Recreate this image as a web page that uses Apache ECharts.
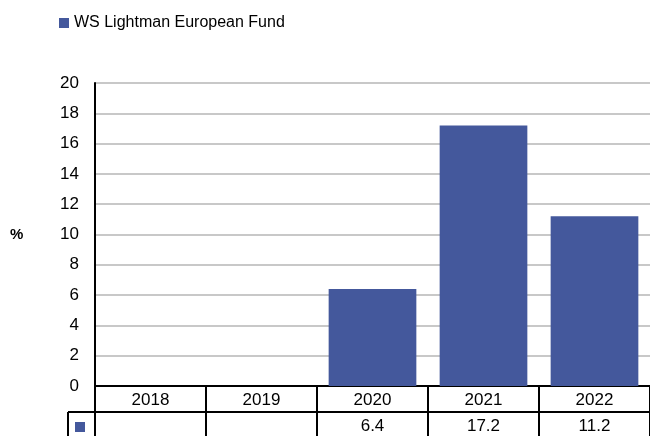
<!DOCTYPE html>
<html>
<head>
<meta charset="utf-8">
<script src="https://cdn.jsdelivr.net/npm/echarts@6/dist/echarts.min.js"></script>
<style>html,body{margin:0;padding:0;background:#fff}#c{width:650px;height:436px}</style>
</head>
<body>
<div id="c"></div>
<script>
const categories = ['2018', '2019', '2020', '2021', '2022'];
const fundValues = [null, null, 6.4, 17.2, 11.2];
const seriesName = 'WS Lightman European Fund';
const yTicks = [0, 2, 4, 6, 8, 10, 12, 14, 16, 18, 20];

const barColor = '#44589C';
const fontFam = '"Liberation Sans", Arial, sans-serif';

const chart = echarts.init(document.getElementById('c'), null, {renderer: 'canvas'});

const tableData = categories.map((c, i) => [i, fundValues[i]]);

chart.setOption({
  animation: false,
  textStyle: {fontFamily: fontFam},
  legend: {
    data: [{name: seriesName, icon: 'rect'}],
    left: 54, top: 10,
    itemWidth: 10, itemHeight: 10, itemGap: 5,
    textStyle: {fontSize: 16, color: '#000', fontFamily: fontFam}
  },
  graphic: [{
    type: 'text', left: 10, top: 227,
    style: {text: '%', font: 'bold 15px ' + fontFam, fill: '#000'}
  }],
  grid: {left: 95, top: 83, width: 556, bottom: 50, containLabel: false},
  xAxis: {
    type: 'category', data: categories,
    axisLine: {show: true, lineStyle: {color: '#000', width: 2}},
    axisTick: {show: false}, axisLabel: {show: false}, splitLine: {show: false}
  },
  yAxis: {
    type: 'value', min: yTicks[0], max: yTicks[yTicks.length - 1], interval: 2,
    axisLine: {show: true, lineStyle: {color: '#000', width: 2}},
    axisTick: {show: false},
    axisLabel: {fontSize: 17, color: '#000', margin: 16, fontFamily: fontFam},
    splitLine: {show: true, lineStyle: {color: '#c8c8c8', width: 2}}
  },
  series: [{
    name: seriesName, type: 'bar', data: fundValues,
    barCategoryGap: '21%', itemStyle: {color: barColor}
  }, {
    type: 'custom', name: 'table', data: tableData, clip: false, silent: true,
    legendHoverLink: false,
    renderItem: function (params, api) {
      const i = api.value(0);
      const p = api.coord([i, 0]);
      const w = api.size([1, 0])[0];
      const x0 = p[0] - w / 2, x1 = p[0] + w / 2, y0 = p[1];
      const rowH = 26;
      const ls = {stroke: '#000', lineWidth: 2};
      const v = fundValues[i];
      const children = [
        {type: 'line', shape: {x1: x1, y1: y0, x2: x1, y2: y0 + 2 * rowH}, style: ls},
        {type: 'line', shape: {x1: x0, y1: y0 + rowH, x2: x1, y2: y0 + rowH}, style: ls},
        {type: 'text', style: {text: categories[i], x: p[0], y: y0 + rowH / 2 + 1, align: 'center', verticalAlign: 'middle', font: '17px ' + fontFam, fill: '#000'}},
        {type: 'text', style: {text: v == null ? '' : String(v), x: p[0], y: y0 + rowH * 1.5 + 1, align: 'center', verticalAlign: 'middle', font: '17px ' + fontFam, fill: '#000'}}
      ];
      if (i === 0) {
        children.push({type: 'line', shape: {x1: x0, y1: y0, x2: x0, y2: y0 + 2 * rowH}, style: ls});
        children.push({type: 'line', shape: {x1: x0 - 27, y1: y0 + rowH, x2: x0, y2: y0 + rowH}, style: ls});
        children.push({type: 'line', shape: {x1: x0 - 27, y1: y0 + rowH, x2: x0 - 27, y2: y0 + 2 * rowH}, style: ls});
        children.push({type: 'rect', shape: {x: x0 - 20, y: y0 + rowH + 10, width: 10, height: 10}, style: {fill: barColor}});
      }
      return {type: 'group', children: children};
    }
  }]
});
</script>
</body>
</html>
